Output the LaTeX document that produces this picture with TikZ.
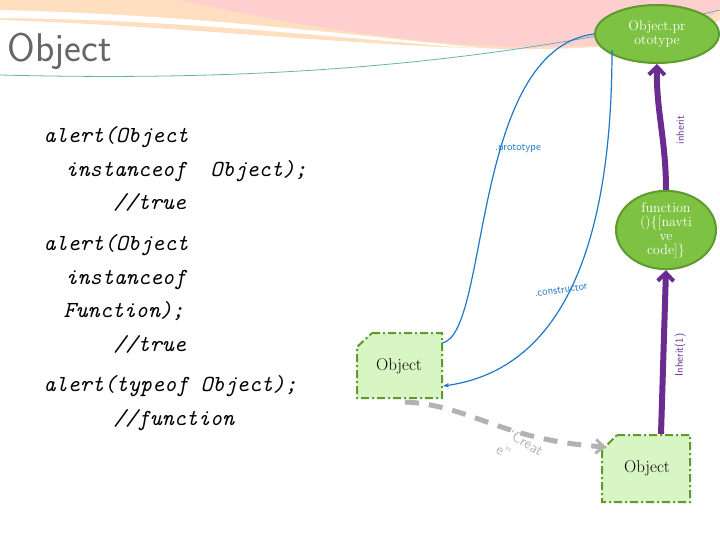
\documentclass[tikz,border=0pt]{standalone}
\usetikzlibrary{arrows.meta,shapes.geometric}
\definecolor{ngreen}{HTML}{7DC242}
\definecolor{dgreen}{HTML}{5E9A2E}
\definecolor{lgreen}{HTML}{D8F5C4}
\definecolor{purp}{HTML}{6A2C91}
\definecolor{blu}{HTML}{1E78C8}
\begin{document}
\begin{tikzpicture}[x=1pt,y=-1pt,
  ell/.style={ellipse,fill=ngreen,draw=dgreen,line width=2pt,text=white,align=center,font=\fontsize{14}{14}\selectfont\rmfamily,inner sep=0pt},
  obox/.style={fill=lgreen,draw=dgreen,line width=2pt,dash pattern=on 8pt off 3pt on 2pt off 3pt},
  blue line/.style={draw=blu,line width=1.2pt},
  inh/.style={draw=purp,line width=6pt,-{Straight Barb[length=8pt,width=16pt,line width=4pt]}},
  lbl/.style={font=\sffamily\fontsize{11}{11}\selectfont},
  code/.style={anchor=base west,font=\fontsize{23}{23}\selectfont\ttfamily\itshape}]
\useasboundingbox (0,0) rectangle (720,540);
% banner
\fill[orange!25] (0,0) -- (720,0) -- (720,20) .. controls (600,80) and (300,30) .. (0,20) -- cycle;
\fill[pink!70!red!40] (180,0) -- (720,0) -- (720,10) .. controls (640,70) and (400,50) .. (180,0) -- cycle;
\fill[white] (0,18) .. controls (200,20) and (350,40) .. (500,50) .. controls (350,35) and (200,15) .. (0,10) -- cycle;
\draw[teal!60,line width=0.8pt] (0,75) .. controls (200,80) and (450,75) .. (720,10);
\node[anchor=base west,text=gray!80!black,font=\fontsize{40}{40}\selectfont\sffamily] (title) at (4,62) {Object};
% code
\node[code] (c1) at (40,143) {alert(Object};
\node[code] (c2) at (62,177) {instanceof\ \ Object);};
\node[code] (c3) at (110,210) {//true};
\node[code] (c4) at (40,250) {alert(Object};
\node[code] (c5) at (62,284) {instanceof};
\node[code] (c6) at (60,317) {Function);};
\node[code] (c7) at (110,351) {//true};
\node[code] (c8) at (40,391) {alert(typeof Object);};
\node[code] (c9) at (110,425) {//function};
% nodes
\node[ell,minimum width=124pt,minimum height=58pt] (proto) at (657,34) {Object.pr\\ototype};
\node[ell,minimum width=100pt,minimum height=76pt] (fn) at (666,230) {function\\()\{[navti\\ve\\code]\}};
\draw[obox] (372,333) -- (442,333) -- (442,398) -- (357,398) -- (357,347) -- cycle;
\node[font=\fontsize{17}{17}\selectfont] (o1) at (399,366) {Object};
\draw[obox] (617,435) -- (690,435) -- (690,502) -- (602,502) -- (602,450) -- cycle;
\node[font=\fontsize{17}{17}\selectfont] (o2) at (647,468) {Object};
\coordinate (o1r) at (442,343);
\coordinate (o1rr) at (443,386);
\coordinate (o1b) at (405,402);
\coordinate (o2l) at (606,447);
\coordinate (o2t) at (661,434);
% connectors
\draw[blue line] (o1r) .. controls (490,335) and (470,50) .. (proto.west);
\node[text=blu,lbl] (lp) at (518,148) {.prototype};
\draw[blue line,-{Stealth[length=6pt]}] (612,50) .. controls (612,250) and (560,370) .. (o1rr);
\node[text=blu,lbl,rotate=8] (lc) at (561,290) {.constructor};
\draw[inh] (fn.north) .. controls (666,140) and (656,110) .. (proto.south);
\node[text=purp,lbl,rotate=90] (li) at (680,130) {inherit};
\draw[inh] (o2t) -- (fn.south);
\node[text=purp,lbl,rotate=90] (li2) at (680,355) {Inherit(1)};
\draw[gray!60,line width=5pt,dash pattern=on 14pt off 10pt,-{Straight Barb[length=8pt,width=14pt,line width=3pt]}] (o1b) .. controls (470,405) and (500,440) .. (o2l);
\node[text=gray!60,font=\sffamily\fontsize{15}{19}\selectfont,rotate=-30,align=left] (lcr) at (520,450) {``Creat\\e''};
\end{tikzpicture}
\end{document}
